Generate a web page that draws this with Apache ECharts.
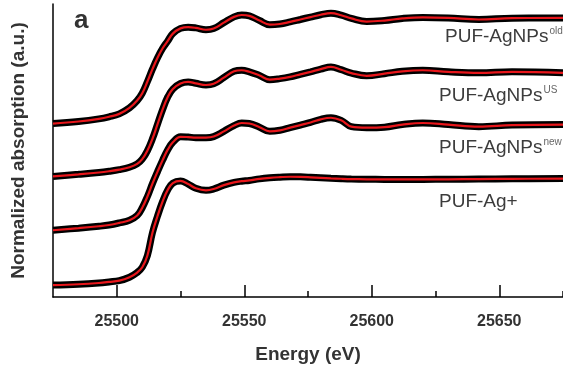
<!DOCTYPE html>
<html>
<head>
<meta charset="utf-8">
<script src="https://cdn.jsdelivr.net/npm/echarts@6/dist/echarts.min.js"></script>
<style>
  html, body { margin: 0; padding: 0; background: #ffffff; }
  #chart { width: 563px; height: 369px; }
</style>
</head>
<body>
<div id="chart"></div>
<script>
// Ag K-edge XANES, normalized absorption, shifted vertically for clarity
const energy = [25475, 25485, 25493, 25497, 25501, 25505, 25508, 25510, 25512, 25514,
  25516, 25518, 25520, 25522, 25525, 25528, 25531, 25535, 25538, 25542,
  25546, 25549, 25552, 25556, 25560, 25564, 25568, 25572, 25576, 25580,
  25584, 25588, 25592, 25598, 25605, 25612, 25620, 25630, 25642, 25655, 25675];

const muOld = [0, 0.02, 0.045, 0.065, 0.093, 0.15, 0.22, 0.29, 0.40, 0.52,
  0.63, 0.72, 0.79, 0.86, 0.91, 0.922, 0.915, 0.897, 0.908, 0.965,
  1.02, 1.038, 1.03, 0.985, 0.945, 0.952, 0.972, 0.995, 1.018, 1.04,
  1.055, 1.036, 1.005, 0.975, 0.985, 1.005, 1.015, 1.01, 0.995, 1.008, 1.01];

const muUS = [0, 0.02, 0.038, 0.05, 0.065, 0.088, 0.12, 0.165, 0.245, 0.36,
  0.50, 0.64, 0.76, 0.835, 0.888, 0.903, 0.89, 0.874, 0.885, 0.945,
  1.005, 1.015, 1.0, 0.965, 0.925, 0.935, 0.952, 0.976, 1.0, 1.025,
  1.047, 1.02, 0.988, 0.962, 0.982, 1.005, 1.015, 1.0, 0.99, 1.0, 0.99];

const muNew = [0, 0.02, 0.038, 0.05, 0.07, 0.095, 0.14, 0.215, 0.32, 0.445,
  0.56, 0.67, 0.77, 0.84, 0.893, 0.89, 0.885, 0.885, 0.895, 0.945,
  1.0, 1.025, 1.02, 0.985, 0.945, 0.955, 0.98, 1.005, 1.03, 1.06,
  1.075, 1.05, 0.99, 0.98, 0.985, 1.01, 1.025, 1.01, 0.99, 1.005, 1.01];

const muAgIon = [0, 0.008, 0.02, 0.03, 0.042, 0.075, 0.12, 0.17, 0.28, 0.50,
  0.66, 0.80, 0.91, 0.975, 0.995, 0.965, 0.925, 0.905, 0.918, 0.955,
  0.982, 0.993, 1.0, 1.015, 1.025, 1.031, 1.035, 1.034, 1.03, 1.025,
  1.02, 1.016, 1.013, 1.011, 1.01, 1.01, 1.01, 1.011, 1.013, 1.015, 1.018];

const sampleNames = ['PUF-AgNPs', 'PUF-AgNPs', 'PUF-AgNPs', 'PUF-Ag+'];
const sampleSups = ['old', 'US', 'new', ''];
const stackOffsets = [1.657, 1.152, 0.638, 0.114];
const spectra = [muOld, muUS, muNew, muAgIon];

const majorTicks = [25500, 25550, 25600, 25650];
const minorTicks = [25525, 25575, 25625, 25675];
const tickLabels = [25500, 25550, 25600, 25650];

const FONT = 'Liberation Sans, Arial, Helvetica, sans-serif';

function shifted(mu, off) {
  return energy.map((e, i) => [e, +(mu[i] + off).toFixed(4)]);
}

// measured points: heavy black trace
const measured = spectra.map((mu, k) => ({
  type: 'line',
  name: sampleNames[k] + ' data',
  data: shifted(mu, stackOffsets[k]),
  smooth: 0.4,
  showSymbol: false,
  lineStyle: { color: '#000000', width: 7 },
  z: 2,
  silent: true
}));

// fitted curves: thin red trace on top
const fitted = spectra.map((mu, k) => ({
  type: 'line',
  name: sampleNames[k] + ' fit',
  data: shifted(mu, stackOffsets[k]),
  smooth: 0.4,
  showSymbol: false,
  lineStyle: { color: '#e8161b', width: 2.2 },
  z: 3,
  silent: true
}));

const labelY = [37, 96, 148, 203];
const labelX = [445, 439, 439, 439];
const sampleLabels = sampleNames.map((n, k) => ({
  type: 'text',
  left: labelX[k],
  top: labelY[k] - 11,
  z: 10,
  style: {
    text: sampleSups[k] ? '{m|' + n + '}{s|' + sampleSups[k] + '}' : '{m|' + n + '}',
    rich: {
      m: { fontSize: 19, fontFamily: FONT, fill: '#3c3c3c', lineHeight: 22 },
      s: { fontSize: 10, fontFamily: FONT, fill: '#666666', verticalAlign: 'top', lineHeight: 22, padding: [0, 0, 8, 1] }
    }
  }
}));

const chart = echarts.init(document.getElementById('chart'), null, { renderer: 'canvas' });
chart.setOption({
  animation: false,
  backgroundColor: '#ffffff',
  grid: { left: 53, right: 0, top: 4, bottom: 71 },
  xAxis: [
    {
      type: 'value',
      min: 25475,
      max: 25675,
      interval: 25,
      position: 'bottom',
      axisLine: { show: true, lineStyle: { color: '#000', width: 1.5 } },
      axisTick: { show: true, inside: true, length: 12, customValues: majorTicks, lineStyle: { color: '#000', width: 1.5 } },
      axisLabel: {
        customValues: tickLabels,
        formatter: (v) => String(v),
        margin: 17,
        fontSize: 16,
        fontWeight: 'bold',
        fontFamily: FONT,
        color: '#333'
      },
      splitLine: { show: false },
      name: 'Energy (eV)',
      nameLocation: 'middle',
      nameGap: 48,
      nameTextStyle: { fontSize: 19, fontWeight: 'bold', fontFamily: FONT, color: '#333' }
    },
    {
      type: 'value',
      min: 25475,
      max: 25675,
      interval: 25,
      position: 'bottom',
      axisLine: { show: false },
      axisTick: { show: true, inside: true, length: 6, customValues: minorTicks, lineStyle: { color: '#000', width: 1.5 } },
      axisLabel: { show: false },
      splitLine: { show: false }
    }
  ],
  yAxis: {
    type: 'value',
    min: 0,
    max: 2.8,
    axisLine: { show: true, lineStyle: { color: '#000', width: 1.5 } },
    axisTick: { show: false },
    axisLabel: { show: false },
    splitLine: { show: false },
    name: 'Normalized absorption (a.u.)',
    nameLocation: 'middle',
    nameGap: 25,
    nameTextStyle: { fontSize: 19, fontWeight: 'bold', fontFamily: FONT, color: '#333' }
  },
  series: measured.concat(fitted),
  graphic: [
    {
      type: 'text',
      left: 74,
      top: 8,
      z: 10,
      style: { text: 'a', fontSize: 26, fontWeight: 'bold', fontFamily: FONT, fill: '#333' }
    }
  ].concat(sampleLabels)
});
</script>
</body>
</html>
